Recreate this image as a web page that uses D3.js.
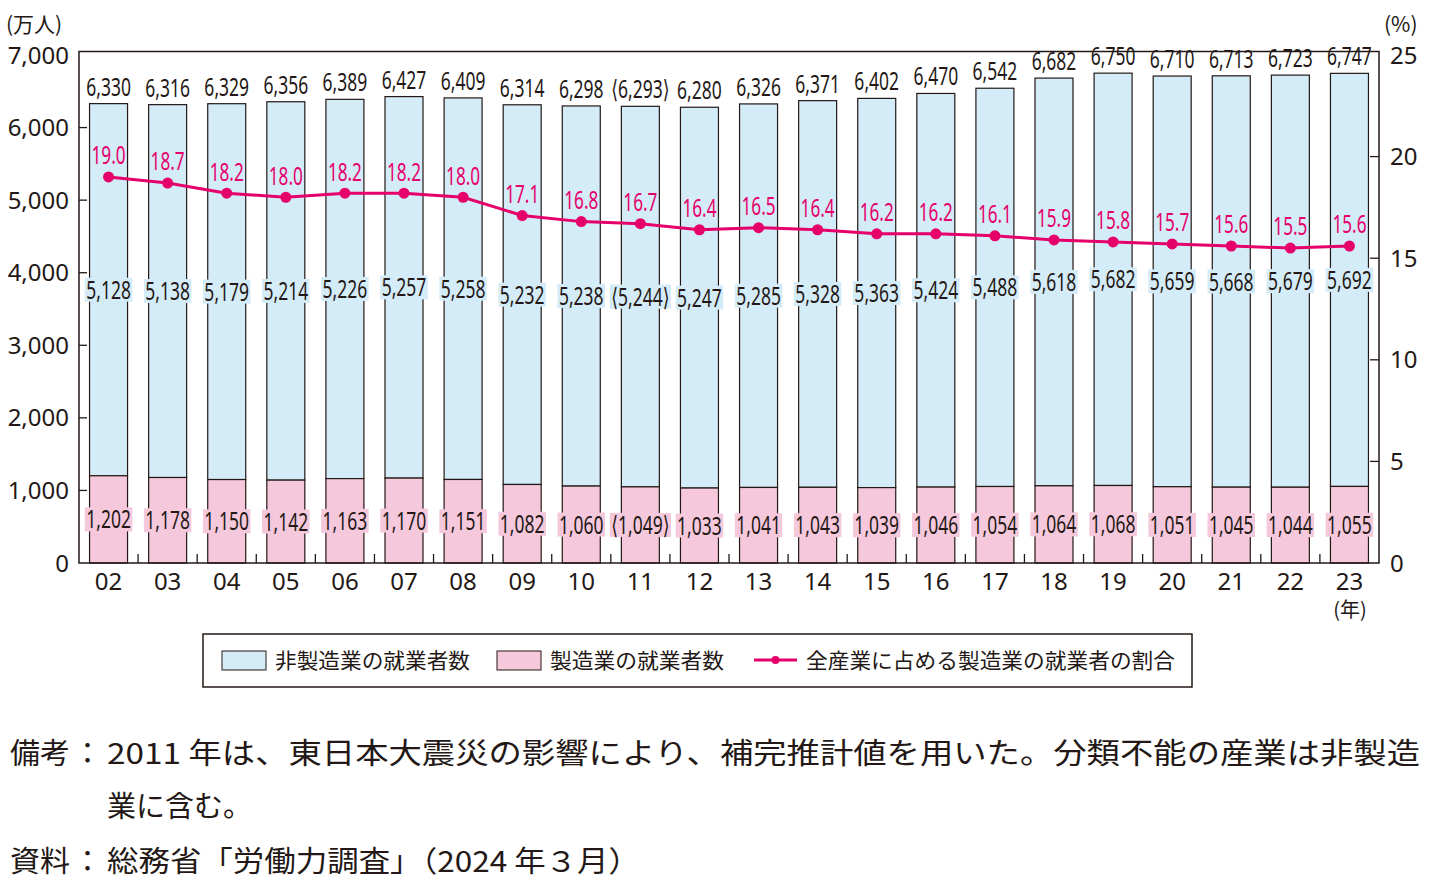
<!DOCTYPE html>
<html><head><meta charset="utf-8">
<script src="https://cdn.jsdelivr.net/npm/d3@7"></script>
<style>
body{margin:0;background:#fff;}
svg{display:block;}
text{font-family:"Noto Sans","DejaVu Sans","Noto Sans CJK JP",sans-serif;}
.jp{font-family:"Noto Sans CJK JP","Noto Sans",sans-serif;}
</style></head>
<body>
<svg id="c" width="1431" height="889"></svg>
<script>
const years = ["02","03","04","05","06","07","08","09","10","11","12","13","14","15","16","17","18","19","20","21","22","23"];
const manufacturing = [1202,1178,1150,1142,1163,1170,1151,1082,1060,1049,1033,1041,1043,1039,1046,1054,1064,1068,1051,1045,1044,1055];
const nonManufacturing = [5128,5138,5179,5214,5226,5257,5258,5232,5238,5244,5247,5285,5328,5363,5424,5488,5618,5682,5659,5668,5679,5692];
const totals = [6330,6316,6329,6356,6389,6427,6409,6314,6298,6293,6280,6326,6371,6402,6470,6542,6682,6750,6710,6713,6723,6747];
const shares = [19.0,18.7,18.2,18.0,18.2,18.2,18.0,17.1,16.8,16.7,16.4,16.5,16.4,16.2,16.2,16.1,15.9,15.8,15.7,15.6,15.5,15.6];
const leftTicks = [0,1000,2000,3000,4000,5000,6000,7000];
const rightTicks = [0,5,10,15,20,25];
const estimatedYear = "11";
const seriesNames = ["非製造業の就業者数","製造業の就業者数","全産業に占める製造業の就業者の割合"];

const ink = "#231815", blue = "#d4ebf8", pink = "#f5c8dc", magenta = "#e5006a";
const svg = d3.select("#c");
const L = 79, R = 1379, T = 51.5, B = 563;

const y = d3.scaleLinear().domain([0,7000]).range([B, 55]);
const y2 = d3.scaleLinear().domain([0,25]).range([B, 55]);
const fmt = d3.format(",");
const step = (R - L) / years.length;
const xc = i => L + step*(i+0.5);

// bars
const g = svg.append("g");
years.forEach((yr,i)=>{
  const cx = xc(i);
  const w = 38;
  g.append("rect").attr("x",cx-w/2).attr("y",y(totals[i])).attr("width",w)
   .attr("height",y(manufacturing[i])-y(totals[i])).attr("fill",blue).attr("stroke",ink).attr("stroke-width",1.2);
  g.append("rect").attr("x",cx-w/2).attr("y",y(manufacturing[i])).attr("width",w)
   .attr("height",B-y(manufacturing[i])).attr("fill",pink).attr("stroke",ink).attr("stroke-width",1.2);
});

// frame
svg.append("rect").attr("x",L).attr("y",T).attr("width",R-L).attr("height",B-T)
  .attr("fill","none").attr("stroke",ink).attr("stroke-width",1.5);

function txt(parent, cls){ const t = parent.append("text"); if(cls) t.attr("class",cls); return t.style("fill",ink); }

// axes
const ax = svg.append("g");
leftTicks.forEach(t=>{
  if(t>0 && t<7000) ax.append("line").attr("x1",L).attr("x2",L+8).attr("y1",y(t)).attr("y2",y(t)).attr("stroke",ink).attr("stroke-width",1.3);
  txt(ax).attr("x",69).attr("y",y(t)).attr("dy","0.36em").attr("text-anchor","end").attr("font-size",24).text(fmt(t));
});
rightTicks.forEach(t=>{
  if(t>0 && t<25) ax.append("line").attr("x1",R-9).attr("x2",R).attr("y1",y2(t)).attr("y2",y2(t)).attr("stroke",ink).attr("stroke-width",1.3);
  txt(ax).attr("x",1390).attr("y",y2(t)).attr("dy","0.36em").attr("text-anchor","start").attr("font-size",24).text(t);
});
years.forEach((yr,i)=>{
  if(i>0) ax.append("line").attr("x1",L+step*i).attr("x2",L+step*i).attr("y1",B).attr("y2",B-9).attr("stroke",ink).attr("stroke-width",1.3);
  txt(ax).attr("x",xc(i)).attr("y",581).attr("dy","0.36em").attr("text-anchor","middle").attr("font-size",24).text(yr);
});
txt(ax,"jp").attr("x",1350).attr("y",610).attr("dy","0.36em").attr("text-anchor","middle").attr("font-size",20).text("(年)");
txt(ax,"jp").attr("x",6).attr("y",24).attr("dy","0.36em").attr("font-size",21).text("(万人)");
txt(ax,"jp").attr("x",1384).attr("y",24).attr("dy","0.36em").attr("font-size",21).text("(%)");

// condensed labels
function label(parent, cx, cy, str, size, sx, color, bg){
  const gg = parent.append("g").attr("transform",`translate(${cx},${cy}) scale(${sx},1)`);
  const r = bg ? gg.append("rect") : null;
  const t = gg.append("text").attr("text-anchor","middle").attr("dy","0.36em").attr("font-size",size).style("fill",color).text(str);
  if(bg){
    const bb = t.node().getBBox();
    r.attr("x",bb.x-2).attr("y",-12).attr("width",bb.width+4).attr("height",24).attr("fill",bg);
  }
}
const lab = svg.append("g");
years.forEach((yr,i)=>{
  const cx = xc(i);
  const wrap = s => yr===estimatedYear ? "⟨"+s+"⟩" : s;
  label(lab, cx, y(totals[i])-17, wrap(fmt(totals[i])), 25, 0.7, ink, null);
  label(lab, cx, y((manufacturing[i]+totals[i])/2), wrap(fmt(nonManufacturing[i])), 25, 0.7, ink, blue);
  label(lab, cx, y(manufacturing[i]/2), wrap(fmt(manufacturing[i])), 25, 0.7, ink, pink);
});

// line
const line = d3.line().x((d,i)=>xc(i)).y(d=>y2(d));
svg.append("path").datum(shares).attr("d",line).attr("fill","none").attr("stroke",magenta).attr("stroke-width",3);
shares.forEach((s,i)=>{
  svg.append("circle").attr("cx",xc(i)).attr("cy",y2(s)).attr("r",5.5).attr("fill",magenta);
  label(svg, xc(i), y2(s)-22, s.toFixed(1), 26, 0.66, magenta, null);
});

// legend
const lg = svg.append("g");
lg.append("rect").attr("x",203).attr("y",634).attr("width",989).attr("height",53).attr("fill","none").attr("stroke",ink).attr("stroke-width",1.5);
lg.append("rect").attr("x",222).attr("y",651).attr("width",44).attr("height",19).attr("fill",blue).attr("stroke",ink).attr("stroke-width",1);
txt(lg,"jp").attr("x",275).attr("y",660).attr("dy","0.36em").attr("font-size",21).attr("textLength",195).attr("lengthAdjust","spacingAndGlyphs").text(seriesNames[0]);
lg.append("rect").attr("x",497).attr("y",651).attr("width",44).attr("height",19).attr("fill",pink).attr("stroke",ink).attr("stroke-width",1);
txt(lg,"jp").attr("x",550).attr("y",660).attr("dy","0.36em").attr("font-size",21).attr("textLength",174).attr("lengthAdjust","spacingAndGlyphs").text(seriesNames[1]);
lg.append("line").attr("x1",754).attr("x2",797).attr("y1",660).attr("y2",660).attr("stroke",magenta).attr("stroke-width",3);
lg.append("circle").attr("cx",775.5).attr("cy",660).attr("r",4).attr("fill",magenta);
txt(lg,"jp").attr("x",806).attr("y",660).attr("dy","0.36em").attr("font-size",21).attr("textLength",369).attr("lengthAdjust","spacingAndGlyphs").text(seriesNames[2]);

// notes
const nt = svg.append("g");
function note(xp, yp, str, len){
  const t = txt(nt,"jp").attr("x",xp).attr("y",yp).attr("font-size",29).text(str);
  if(len) t.attr("textLength",len).attr("lengthAdjust","spacingAndGlyphs");
}
note(10,764,"備考",60);
note(73,764,"：",null);
note(107,764,"2011 年は、東日本大震災の影響により、補完推計値を用いた。分類不能の産業は非製造",1313);
note(107,817,"業に含む。",145);
note(10,872,"資料",60);
note(73,872,"：",null);
note(107,872,"総務省「労働力調査」（2024 年３月）",533);
</script>
</body></html>
